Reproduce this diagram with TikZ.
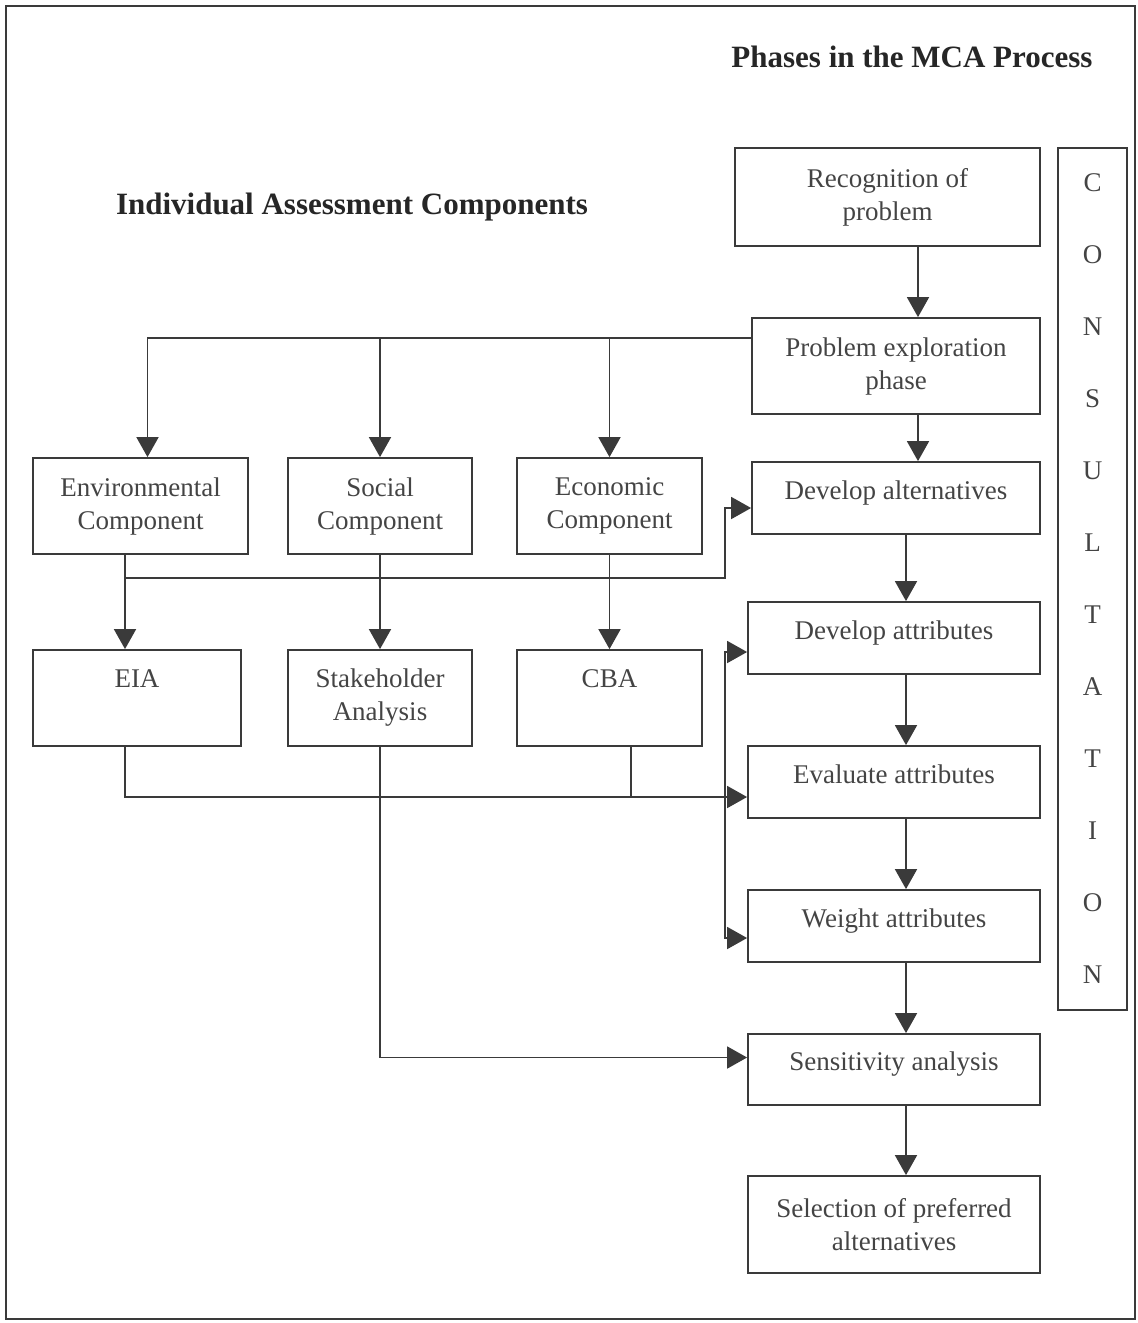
\documentclass[tikz,border=0pt]{standalone}
\usepackage{fontspec}
\setmainfont{Liberation Serif}
\usetikzlibrary{arrows.meta}
\definecolor{inkgray}{HTML}{3A3A3A}
\definecolor{txtgray}{HTML}{444444}
\begin{document}
\begin{tikzpicture}[x=1pt, y=-1pt,
  every node/.style={font=\fontsize{27}{33}\selectfont, text=txtgray},
  box/.style 2 args={draw=inkgray, line width=1.8pt, align=center, inner sep=0pt,
    minimum width=#1, minimum height=#2},
  oneline/.style={text height=32pt, text depth=30pt},
  tallone/.style={text height=18pt, text depth=40pt},
  heading/.style={font=\bfseries\fontsize{31}{36}\selectfont, text=black!85},
  link/.style={draw=inkgray, line width=1.8pt},
  arr/.style={link, -{Triangle[length=20pt,width=22pt]}},
  biarr/.style={link, {Triangle[length=20pt,width=22pt]}-{Triangle[length=20pt,width=22pt]}}]
\useasboundingbox (0,0) rectangle (1138,1323);
\draw[link] (6,6) rectangle (1135,1319);
\node[heading] (mcahead) at (912,57) {Phases in the MCA Process};
\node[heading] (iachead) at (352,207) {Individual Assessment Components};
% MCA phases
\node[box={305}{98}] (rec) at (887.5,197) {Recognition of\\problem};
\node[box={288}{96}] (pe) at (896,366) {Problem exploration\\phase};
\node[box={288}{72},oneline] (da) at (896,498) {Develop alternatives};
\node[box={292}{72},oneline] (dat) at (894,638) {Develop attributes};
\node[box={292}{72},oneline] (ev) at (894,782) {Evaluate attributes};
\node[box={292}{72},oneline] (wa) at (894,926) {Weight attributes};
\node[box={292}{71},oneline] (sa) at (894,1069.5) {Sensitivity analysis};
\node[box={292}{97}] (sel) at (894,1224.5) {Selection of preferred\\alternatives};
\node[box={69}{862}, font=\fontsize{27}{72}\selectfont] (con) at (1092.5,579)
  {C\\O\\N\\S\\U\\L\\T\\A\\T\\I\\O\\N};
% assessment components
\node[box={215}{96}] (env) at (140.5,506) {Environmental\\Component};
\node[box={184}{96}] (soc) at (380,506) {Social\\Component};
\node[box={185}{96}] (eco) at (609.5,506) {Economic\\Component};
\node[box={208}{96},tallone] (eia) at (137,698) {EIA};
\node[box={184}{96}] (sh) at (380,698) {Stakeholder\\Analysis};
\node[box={185}{96},tallone] (cba) at (609.5,698) {CBA};
% routing points
\coordinate (topx) at (918,0);
\coordinate (chainx) at (906,0);
\coordinate (envx) at (125,0);
\coordinate (cbax) at (631,0);
\coordinate (busx) at (725,0);
\coordinate (envjoin) at (125,578);
\coordinate (peout) at (752,338);
\coordinate (dain) at ([yshift=-10pt]da.west);
\coordinate (datin) at ([yshift=-14pt]dat.west);
\coordinate (evin) at ([yshift=-15pt]ev.west);
\coordinate (wain) at ([yshift=-12pt]wa.west);
\coordinate (sain) at ([yshift=12pt]sa.west);
\draw[arr] (rec.south -| topx) -- (pe.north -| topx);
\draw[arr] (pe.south -| topx) -- (da.north -| topx);
\foreach \a/\b in {da/dat, dat/ev, ev/wa, wa/sa, sa/sel}
  \draw[arr] (\a.south -| chainx) -- (\b.north -| chainx);
\draw[arr] (peout) -| ([xshift=7pt]env.north);
\draw[arr] (peout) -| (soc.north);
\draw[arr] (peout) -| (eco.north);
\draw[arr] (env.south -| envx) -- (eia.north -| envx);
\draw[arr] (soc) -- (sh);
\draw[arr] (eco) -- (cba);
\draw[arr] (envjoin) -- (envjoin -| busx) |- (dain);
\draw[arr] (eia.south -| envx) |- (evin);
\draw[link] (cba.south -| cbax) -- (evin -| cbax);
\draw[biarr] (datin) -- (datin -| busx) -- (wain -| busx) -- (wain);
\draw[arr] (sh) |- (sain);
\end{tikzpicture}
\end{document}
